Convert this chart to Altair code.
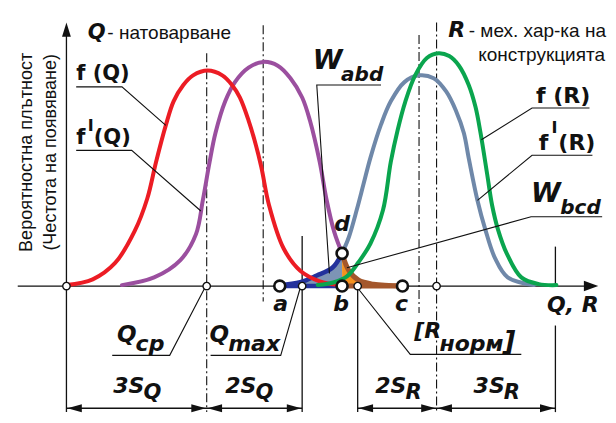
import altair as alt
import pandas as pd

# ---------------- curve data (x along the Q,R axis, h = probability density) ----------------
FQ_X = [60, 87, 110, 130, 143, 152, 162, 170, 180, 190, 205, 220, 230, 238, 247, 253, 260, 268, 283, 300, 320, 340]
FQ_H = [1, 7, 24, 57, 91, 129, 167, 192, 209, 219, 224, 219, 209, 196, 172, 152, 124, 84, 39, 16, 5, 1]

F1Q_X = [117, 150, 177, 193, 200, 207, 213, 223, 233, 247, 262, 277, 290, 302, 310, 320, 327, 335, 343, 350, 360, 375, 405]
F1Q_H = [1, 9, 27, 54, 89, 129, 159, 192, 212, 227, 233, 229, 216, 196, 172, 129, 90, 56, 34, 16, 6, 2, 0]

F1R_X = [279, 300, 317, 333, 343, 350, 358, 365, 372, 383, 393, 407, 422, 437, 450, 460, 468, 473, 482, 490, 500, 513, 540]
F1R_H = [1, 4, 11, 19, 34, 51, 79, 106, 133, 168, 192, 212, 219, 216, 202, 182, 159, 133, 89, 59, 29, 9, 1]

FR_X = [318, 335, 348, 360, 372, 385, 393, 400, 408, 418, 430, 442, 453, 463, 473, 480, 485, 492, 497, 503, 512, 527, 545, 563]
FR_H = [1, 4, 10, 25, 44, 79, 129, 162, 192, 219, 237, 242, 239, 229, 209, 186, 160, 116, 84, 59, 34, 9, 2, 1]

# key abscissae of the diagram
X0, Q_CP, Q_F1, Q_MAX = 60, 204, 262, 302
A, B, C, D_H = 279, 343, 405, 34
R_NORM, R_F1, R_CP, X_END = 359, 422, 440, 562

RED, PURPLE, STEEL, GREEN = "#ec1c24", "#9b4f9f", "#6f88a9", "#0aa54e"
DARKBLUE, BROWN, ORANGE, LIGHTBLUE = "#23319c", "#a4572c", "#f5911e", "#7d94b5"
INTERP = "catmull-rom"

XS = alt.Scale(domain=[0, 616], nice=False, zero=False)
YS = alt.Scale(domain=[-134, 289], nice=False, zero=False)


def X(f="x"):
    return alt.X(f"{f}:Q", scale=XS, axis=None)


def Y(f="h"):
    return alt.Y(f"{f}:Q", scale=YS, axis=None)


def curve_df(xs, hs):
    return pd.DataFrame({"x": xs, "h": hs, "z": [0] * len(xs)})


fq = curve_df(FQ_X, FQ_H)
f1q = curve_df(F1Q_X, F1Q_H)
f1r = curve_df(F1R_X, F1R_H)
fr = curve_df(FR_X, FR_H)

layers = []

# ---------------- axes, construction lines ----------------
solid = pd.DataFrame([
    {"x": X0, "x2": X0, "h": 262, "h2": -131},
    {"x": Q_MAX, "x2": Q_MAX, "h": 52, "h2": -131},
    {"x": R_NORM, "x2": R_NORM, "h": 0, "h2": -131},
    {"x": X_END, "x2": X_END, "h": 41, "h2": 0},
    {"x": X_END, "x2": X_END, "h": -41, "h2": -131},
    {"x": 10, "x2": 592, "h": 0, "h2": 0},
    {"x": X0, "x2": Q_MAX, "h": -127, "h2": -127},
    {"x": R_NORM, "x2": X_END, "h": -127, "h2": -127},
])
layers.append(alt.Chart(solid).mark_rule(color="#111", strokeWidth=1.3).encode(
    x=X("x"), x2="x2:Q", y=Y("h"), y2="h2:Q"))

dashdot = pd.DataFrame([
    {"x": Q_CP, "x2": Q_CP, "h": 242, "h2": -131},
    {"x": Q_F1, "x2": Q_F1, "h": 271, "h2": -16},
    {"x": R_F1, "x2": R_F1, "h": 261, "h2": -28},
    {"x": R_CP, "x2": R_CP, "h": 274, "h2": -131},
])
layers.append(alt.Chart(dashdot).mark_rule(color="#111", strokeWidth=1.1, strokeDash=[9, 3, 2, 3]).encode(
    x=X("x"), x2="x2:Q", y=Y("h"), y2="h2:Q"))

# ---------------- shaded regions W_abd and W_bcd ----------------
layers.append(alt.Chart(f1r).transform_filter(alt.datum.x <= B).mark_area(
    color=LIGHTBLUE, opacity=1, interpolate=INTERP).encode(x=X("x"), y=Y("h"), y2="z:Q"))
layers.append(alt.Chart(f1q).transform_filter(alt.datum.x >= B).mark_area(
    color=ORANGE, opacity=1, interpolate=INTERP).encode(x=X("x"), y=Y("h"), y2="z:Q"))

base_seg = pd.DataFrame([{"x": A, "x2": B, "h": 0, "h2": 0}])
layers.append(alt.Chart(base_seg).mark_rule(color=DARKBLUE, strokeWidth=4.5).encode(
    x=X("x"), x2="x2:Q", y=Y("h"), y2="h2:Q"))
layers.append(alt.Chart(f1r).transform_filter(alt.datum.x <= B).mark_line(
    color=DARKBLUE, strokeWidth=4.5, interpolate=INTERP).encode(x=X("x"), y=Y("h")))
base_seg2 = pd.DataFrame([{"x": B, "x2": C, "h": 0, "h2": 0}])
layers.append(alt.Chart(base_seg2).mark_rule(color=BROWN, strokeWidth=5).encode(
    x=X("x"), x2="x2:Q", y=Y("h"), y2="h2:Q"))
layers.append(alt.Chart(f1q).transform_filter(alt.datum.x >= B).mark_line(
    color=BROWN, strokeWidth=5, interpolate=INTERP).encode(x=X("x"), y=Y("h")))

# ---------------- distribution curves ----------------
layers.append(alt.Chart(f1q).transform_filter(alt.datum.x <= B).mark_line(
    color=PURPLE, strokeWidth=4, interpolate=INTERP, strokeCap="round").encode(x=X("x"), y=Y("h")))
layers.append(alt.Chart(f1r).transform_filter(alt.datum.x >= B).mark_line(
    color=STEEL, strokeWidth=4, interpolate=INTERP, strokeCap="round").encode(x=X("x"), y=Y("h")))
layers.append(alt.Chart(fq).mark_line(
    color=RED, strokeWidth=4, interpolate=INTERP, strokeCap="round").encode(x=X("x"), y=Y("h")))
layers.append(alt.Chart(fr).mark_line(
    color=GREEN, strokeWidth=4, interpolate=INTERP, strokeCap="round").encode(x=X("x"), y=Y("h")))

# ---------------- leader lines ----------------
LEADERS = {
    "fQ": [(70, 207), (117, 207), (162, 167)],
    "f1Q": [(70, 141), (127, 141), (198, 78)],
    "Wabd": [(383, 209), (317, 209), (330, 13)],
    "fR": [(597, 185), (538, 185), (486, 152)],
    "f1R": [(600, 136), (538, 136), (482, 89)],
    "Wbcd": [(610, 72), (537, 72), (348, 19)],
    "Qcp": [(107, -72), (166, -72), (202, -2)],
    "Qmax": [(208, -72), (280, -72), (300, -2)],
    "Rn": [(527, -71), (413, -71), (359, -2)],
}
rows = []
for key, pts in LEADERS.items():
    for k, (x, h) in enumerate(pts):
        rows.append({"id": key, "k": k, "x": x, "h": h})
layers.append(alt.Chart(pd.DataFrame(rows)).mark_line(color="#111", strokeWidth=1.1).encode(
    x=X("x"), y=Y("h"), detail="id:N", order="k:Q"))

# ---------------- arrow heads ----------------
RIGHT = "M0,0L-3.6,-1L-3.6,1Z"
LEFT = "M0,0L3.6,-1L3.6,1Z"
UP = "M0,0L-1.1,3.6L1.1,3.6Z"
arrows = pd.DataFrame([
    {"x": 606, "h": 0, "shape": "M0,0L-3.6,-1.3L-3.6,1.3Z"},
    {"x": X0, "h": 274, "shape": UP},
    {"x": X0 + 1, "h": -127, "shape": LEFT},
    {"x": Q_CP - 1, "h": -127, "shape": RIGHT},
    {"x": Q_CP + 1, "h": -127, "shape": LEFT},
    {"x": Q_MAX - 1, "h": -127, "shape": RIGHT},
    {"x": R_NORM + 1, "h": -127, "shape": LEFT},
    {"x": R_CP - 1, "h": -127, "shape": RIGHT},
    {"x": R_CP + 1, "h": -127, "shape": LEFT},
    {"x": X_END - 1, "h": -127, "shape": RIGHT},
])
layers.append(alt.Chart(arrows).mark_point(filled=True, color="#111", opacity=1, size=64, strokeWidth=0).encode(
    x=X("x"), y=Y("h"), shape=alt.Shape("shape:N", scale=None)))

# ---------------- marker circles ----------------
small_pts = pd.DataFrame({"x": [X0, Q_CP, Q_MAX, R_NORM, R_CP], "h": [0, 0, 0, 0, 0]})
big_pts = pd.DataFrame({"x": [A, B, C, B], "h": [0, 0, 0, D_H]})
layers.append(alt.Chart(small_pts).mark_point(shape="circle", filled=True, fill="white", stroke="#111",
                                              strokeWidth=1.4, size=55, opacity=1).encode(x=X("x"), y=Y("h")))
layers.append(alt.Chart(big_pts).mark_point(shape="circle", filled=True, fill="white", stroke="#111",
                                            strokeWidth=2.6, size=120, opacity=1).encode(x=X("x"), y=Y("h")))

# ---------------- texts ----------------
BI_LEFT = pd.DataFrame([
    ("Q", 82, 257, 21), ("R", 452, 259, 22),
    ("W", 313, 226, 27), ("abd", 342, 213, 20),
    ("W", 537, 87, 27), ("bcd", 567, 75, 20),
    ("Q", 112, -58, 23), ("cp", 131, -68, 22),
    ("Q", 207, -58, 23), ("max", 226, -68, 22),
    ("[R", 417, -54, 22), ("норм", 443, -67, 22),
    ("3S", 108, -111, 22), ("Q", 139, -117, 21),
    ("2S", 223, -111, 22), ("Q", 254, -117, 21),
    ("2S", 377, -111, 22), ("R", 408, -117, 21),
    ("3S", 478, -111, 22), ("R", 509, -117, 21),
], columns=["t", "x", "h", "s"])
BI_CENTER = pd.DataFrame([
    ("d", B, 57, 22), ("a", 280, -26, 22), ("b", 342, -26, 22), ("c", 404, -26, 22), ("Q, R", 580, -27, 22),
], columns=["t", "x", "h", "s"])
BI_RIGHT = pd.DataFrame([("]", 521, -66, 27)], columns=["t", "x", "h", "s"])
B_LEFT = pd.DataFrame([
    ("f (Q)", 70, 214, 21), ("f", 70, 148, 21), ("I", 82, 161, 16), ("(Q)", 88, 148, 21),
    ("f (R)", 542, 190, 22), ("f", 545, 141, 22), ("I", 558, 159, 16), ("(R)", 565, 141, 22),
], columns=["t", "x", "h", "s"])
R_LEFT = pd.DataFrame([
    ("- натоварване", 102, 257, 19), ("- мех. хар-ка на", 473, 259, 19),
], columns=["t", "x", "h", "s"])
R_RIGHT = pd.DataFrame([("конструкцията", 613, 234, 19)], columns=["t", "x", "h", "s"])
YLAB = pd.DataFrame([
    ("Вероятностна плътност", 19, 139, 18), ("(Честота на появяване)", 44, 139, 18),
], columns=["t", "x", "h", "s"])

DJ = "DejaVu Sans"
LS = "Liberation Sans"


def text_layer(df, font, weight, style, align, angle=0, baseline="alphabetic"):
    kw = dict(font=font, fontWeight=weight, fontStyle=style, align=align, baseline=baseline, color="#111")
    if angle:
        kw["angle"] = angle
    return alt.Chart(df).mark_text(**kw).encode(
        x=X("x"), y=Y("h"), text="t:N", size=alt.Size("s:Q", scale=None))


layers += [
    text_layer(BI_LEFT, DJ, "bold", "italic", "left"),
    text_layer(BI_CENTER, DJ, "bold", "italic", "center"),
    text_layer(BI_RIGHT, DJ, "bold", "italic", "right"),
    text_layer(B_LEFT, DJ, "bold", "normal", "left"),
    text_layer(R_LEFT, LS, "normal", "normal", "left"),
    text_layer(R_RIGHT, LS, "normal", "normal", "right"),
    text_layer(YLAB, LS, "normal", "normal", "center", angle=270, baseline="middle"),
]

chart = alt.layer(*layers).properties(
    width=600, height=407, padding=0, autosize="none", background="white"
).configure_view(stroke=None)

chart.save("out.html", embed_options={"renderer": "svg", "actions": False})
